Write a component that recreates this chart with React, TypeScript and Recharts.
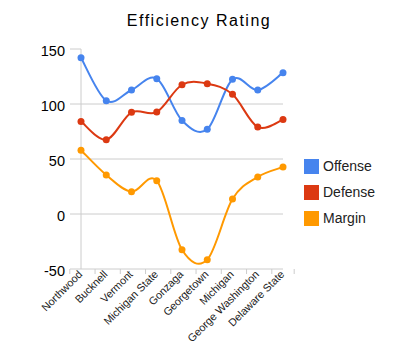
import React from 'react';
import { LineChart, Line, XAxis, YAxis, ReferenceLine, Legend } from 'recharts';

const teams = ['Northwood', 'Bucknell', 'Vermont', 'Michigan State', 'Gonzaga', 'Georgetown', 'Michigan', 'George Washington', 'Delaware State'];
const offense = [142, 103, 112.7, 123, 85, 77, 122.4, 112.7, 128.5];
const defense = [84.2, 67.5, 92.4, 92.7, 117.5, 118.5, 108.8, 79, 85.8];
const margin = [58, 35.5, 20.3, 30.3, -32.5, -41.5, 13.6, 33.7, 42.7];
const yTicks = [-50, 0, 50, 100, 150];
const gridValues = [0, 50, 100];

const series = [
  { key: 'offense', name: 'Offense', color: '#4684ee' },
  { key: 'defense', name: 'Defense', color: '#dc3912' },
  { key: 'margin', name: 'Margin', color: '#ff9900' },
];

const data = teams.map((team, i) => ({
  team,
  offense: offense[i],
  defense: defense[i],
  margin: margin[i],
}));

const FONT = 'Arial, "Liberation Sans", sans-serif';

// catmull-rom style smoothing, like the old google image charts
function smoothCurve(context: any) {
  let pts: number[][] = [];
  return {
    areaStart() {},
    areaEnd() {},
    lineStart() { pts = []; },
    point(x: number, y: number) { pts.push([+x, +y]); },
    lineEnd() {
      if (!pts.length) return;
      context.moveTo(pts[0][0], pts[0][1]);
      for (let i = 0; i < pts.length - 1; i++) {
        const p0 = pts[i - 1] || pts[i];
        const p1 = pts[i];
        const p2 = pts[i + 1];
        const p3 = pts[i + 2] || p2;
        context.bezierCurveTo(
          p1[0] + (p2[0] - p0[0]) / 6, p1[1] + (p2[1] - p0[1]) / 6,
          p2[0] - (p3[0] - p1[0]) / 6, p2[1] - (p3[1] - p1[1]) / 6,
          p2[0], p2[1]
        );
      }
    },
  };
}

const HALF_BAND = 11.2;

function TeamTick(props: any) {
  const { x, y, payload, index } = props;
  const tx = x + 2;
  const ty = y + 6;
  return (
    <g>
      <line x1={x - HALF_BAND} y1={y} x2={x - HALF_BAND} y2={y + 5} stroke="#ccc" />
      {index === teams.length - 1 && (
        <line x1={x + HALF_BAND} y1={y} x2={x + HALF_BAND} y2={y + 5} stroke="#ccc" />
      )}
      <text
        x={tx}
        y={ty}
        textAnchor="end"
        transform={`rotate(-45, ${tx}, ${ty})`}
        fontSize={10.8}
        fontFamily={FONT}
        fill="#222"
      >
        {payload.value}
      </text>
    </g>
  );
}

function LegendBox() {
  return (
    <div style={{ fontFamily: FONT, fontSize: 14, color: '#222' }}>
      {series.map((s) => (
        <div key={s.key} style={{ display: 'flex', alignItems: 'center', height: 26 }}>
          <div style={{ width: 15, height: 15, background: s.color, marginRight: 4 }} />
          <span>{s.name}</span>
        </div>
      ))}
    </div>
  );
}

export default function App() {
  return (
    <div style={{ position: 'absolute', left: 0, top: 0, width: 398, height: 357, background: '#fff' }}>
      <div
        style={{
          position: 'absolute',
          top: 12,
          left: 0,
          width: 398,
          textAlign: 'center',
          fontFamily: FONT,
          fontSize: 16,
          lineHeight: '17px',
          letterSpacing: 1.5,
          color: '#000',
        }}
      >
        Efficiency Rating
      </div>
      <LineChart width={398} height={357} data={data} margin={{ top: 49, right: 115, bottom: 0, left: 0 }}>
        {gridValues.map((v) => (
          <ReferenceLine key={v} y={v} stroke="#ccc" />
        ))}
        <XAxis
          dataKey="team"
          interval={0}
          height={88}
          tickSize={0}
          tickMargin={0}
          tickLine={false}
          axisLine={{ stroke: '#ccc' }}
          tick={<TeamTick />}
        />
        <YAxis
          width={81}
          domain={[-50, 150]}
          ticks={yTicks}
          interval={0}
          tickSize={11}
          tickMargin={5}
          axisLine={{ stroke: '#ccc' }}
          tickLine={{ stroke: '#ccc' }}
          tick={{ fill: '#000', fontSize: 14.5, fontFamily: FONT, dy: 2 }}
        />
        <YAxis
          yAxisId="frame"
          orientation="right"
          width={0}
          domain={[-50, 150]}
          tick={false}
          tickLine={false}
          axisLine={{ stroke: '#ccc' }}
        />
        <Legend
          layout="vertical"
          align="center"
          verticalAlign="middle"
          content={<LegendBox />}
          wrapperStyle={{ left: 304, top: 153, width: 90 }}
        />
        {series.map((s) => (
          <Line
            key={s.key}
            dataKey={s.key}
            name={s.name}
            type={smoothCurve as any}
            stroke={s.color}
            strokeWidth={2}
            dot={{ r: 3.5, fill: s.color, stroke: s.color, strokeWidth: 0 }}
            activeDot={false}
            isAnimationActive={false}
          />
        ))}
      </LineChart>
    </div>
  );
}
